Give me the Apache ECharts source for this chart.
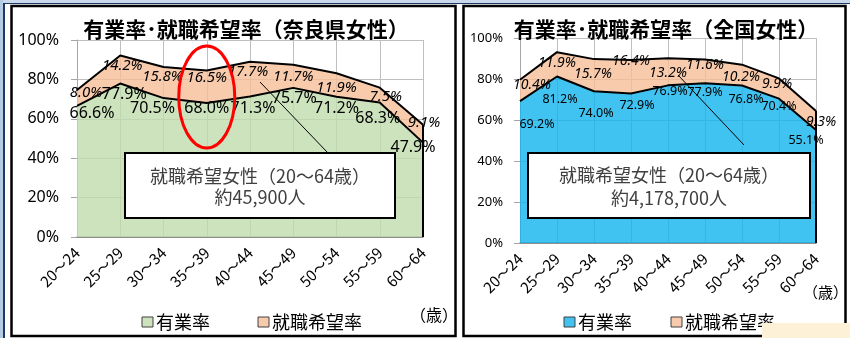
<!DOCTYPE html>
<html>
<head>
<meta charset="utf-8">
<script src="https://cdn.jsdelivr.net/npm/echarts@6/dist/echarts.min.js"></script>
<style>
html, body { margin: 0; padding: 0; background: #ffffff; }
#chart { width: 850px; height: 338px; }
</style>
</head>
<body>
<div id="chart"></div>
<script>
// Age groups (women, 20-64)
const ageGroups = ['20～24', '25～29', '30～34', '35～39', '40～44', '45～49', '50～54', '55～59', '60～64'];

// Nara prefecture: employment rate and job-wish rate (%)
const naraEmployment = [66.6, 77.9, 70.5, 68.0, 71.3, 75.7, 71.2, 68.3, 47.9];
const naraJobWish = [8.0, 14.2, 15.8, 16.5, 17.7, 11.7, 11.9, 7.5, 9.1];

// Nationwide: employment rate and job-wish rate (%)
const nationEmployment = [69.2, 81.2, 74.0, 72.9, 76.9, 77.9, 76.8, 70.4, 55.1];
const nationJobWish = [10.4, 11.9, 15.7, 16.4, 13.2, 11.6, 10.2, 9.9, 9.3];

// Texts
const naraTitle = '有業率･就職希望率（奈良県女性）';
const nationTitle = '有業率･就職希望率（全国女性）';
const naraNote = ['就職希望女性（20～64歳）', '約45,900人'];
const nationNote = ['就職希望女性（20～64歳）', '約4,178,700人'];
const seriesNames = ['有業率', '就職希望率'];
const ageUnit = '（歳）';

// Label nudges (pixels) so the value labels sit clear of the lines
const naraEmpShift = [[15, -4], [4, -1], [-11, -1], [0, -6], [3, 0], [1, -1], [0, 0], [-2, 4], [-10, -7]];
const naraWishShift = [[9, -8], [2, -1], [-1, -1], [0, -4], [-2, -1], [0, 1], [0, 3], [6, -2], [1, -13]];
const nationEmpShift = [[17, 13], [3, 13], [2, 12], [6, 2], [2, -4], [0, -1], [4, 4], [0, -2], [-10, 0]];
const nationWishShift = [[12, -5], [0, 0], [-1, 4], [0, -9], [0, 4], [0, -5], [-1, 2], [-2, -5], [5, 1]];

const CJK = '"Noto Sans CJK JP", "Noto Sans", sans-serif';
const NUM = '"Noto Sans", "Liberation Sans", sans-serif';

const GREEN = '#c0dcac', BLUE = '#12b4ee', PEACH = '#f6be98';
const GREEN_SW = '#cde3bd', BLUE_SW = '#41c3f1', PEACH_SW = '#f8cbad';

function pct(p) { return Number(p.value).toFixed(1) + '%'; }

function areaSeries(name, values, idx, fill, shifts, labelFont, isFirst, totals) {
  const s = {
    type: 'line',
    name: name,
    xAxisIndex: idx,
    yAxisIndex: idx,
    stack: 'rate' + idx,
    data: values.map((v, i) => ({ value: v, label: { offset: shifts[i] } })),
    symbol: 'circle',
    symbolSize: 1,
    itemStyle: { color: 'rgba(0,0,0,0)' },
    lineStyle: { color: '#000000', width: 2 },
    areaStyle: { color: fill, opacity: 0.8 },
    label: Object.assign({
      show: true,
      position: 'bottom',
      distance: 3,
      color: '#000000',
      fontFamily: NUM,
      formatter: pct
    }, labelFont),
    silent: true,
    z: 2
  };
  if (isFirst) {
    const last = ageGroups.length - 1;
    s.markLine = {
      silent: true,
      symbol: 'none',
      label: { show: false },
      lineStyle: { color: '#000000', width: 2, type: 'solid' },
      data: [[{ coord: [ageGroups[last], 0] }, { coord: [ageGroups[last], totals[last]] }]]
    };
  }
  return s;
}

function xAxisFor(idx) {
  return {
    type: 'category',
    gridIndex: idx,
    data: ageGroups,
    boundaryGap: false,
    axisLine: { show: true, lineStyle: { color: '#7f7f7f', width: 1.5 } },
    axisTick: { show: false },
    splitLine: { show: true, lineStyle: { color: '#bfbfbf', width: 1 } },
    axisLabel: { interval: 0, rotate: 45, margin: 13, fontSize: 15, color: '#000000', fontFamily: CJK }
  };
}

function yAxisFor(idx, size, margin) {
  return {
    type: 'value',
    gridIndex: idx,
    min: 0,
    max: 100,
    interval: 20,
    axisLine: { show: true, lineStyle: { color: '#a6a6a6' } },
    axisTick: { show: true, length: 6, lineStyle: { color: '#a6a6a6' } },
    splitLine: { show: true, lineStyle: { color: '#bfbfbf', width: 1 } },
    axisLabel: { formatter: '{value}%', fontSize: size, margin: margin, color: '#000000', fontFamily: NUM }
  };
}

const naraTotals = naraEmployment.map((v, i) => v + naraJobWish[i]);
const nationTotals = nationEmployment.map((v, i) => v + nationJobWish[i]);

const chart = echarts.init(document.getElementById('chart'), null, { renderer: 'canvas' });

chart.setOption({
  animation: false,
  backgroundColor: '#ffffff',
  title: [
    { text: naraTitle, left: 241, top: 14, textAlign: 'center',
      textStyle: { fontFamily: CJK, fontSize: 21, fontWeight: 'bold', color: '#000000' } },
    { text: nationTitle, left: 661, top: 14, textAlign: 'center',
      textStyle: { fontFamily: CJK, fontSize: 21, fontWeight: 'bold', color: '#000000' } }
  ],
  grid: [
    { left: 77, top: 40, width: 346, height: 197 },
    { left: 520, top: 38, width: 296, height: 205 }
  ],
  xAxis: [xAxisFor(0), xAxisFor(1)],
  yAxis: [yAxisFor(0, 16, 18), yAxisFor(1, 13, 17)],
  series: [
    areaSeries(seriesNames[0], naraEmployment, 0, GREEN, naraEmpShift, { fontSize: 16 }, true, naraTotals),
    areaSeries(seriesNames[1], naraJobWish, 0, PEACH, naraWishShift, { fontSize: 15, fontStyle: 'italic' }, false),
    areaSeries(seriesNames[0], nationEmployment, 1, BLUE, nationEmpShift, { fontSize: 12.5 }, true, nationTotals),
    areaSeries(seriesNames[1], nationJobWish, 1, PEACH, nationWishShift, { fontSize: 14, fontStyle: 'italic' }, false)
  ]
});

// Panel decorations, notes and legends
const ringCenter = chart.convertToPixel({ xAxisIndex: 0, yAxisIndex: 0 }, [ageGroups[3], 71]);

function note(x, y, w, h, lines, ty1, ty2) {
  return [
    { type: 'rect', shape: { x: x, y: y, width: w, height: h },
      style: { fill: '#ffffff', stroke: '#000000', lineWidth: 2 }, z: 50 },
    { type: 'text', x: x + w / 2, y: ty1, z: 51,
      style: { text: lines[0], font: '18px ' + CJK, fill: '#404040', align: 'center', verticalAlign: 'middle' } },
    { type: 'text', x: x + w / 2, y: ty2, z: 51,
      style: { text: lines[1], font: '18px ' + CJK, fill: '#404040', align: 'center', verticalAlign: 'middle' } }
  ];
}

function legendItems(x1, x2, y, color1, color2) {
  return [
    { type: 'rect', shape: { x: x1, y: y - 5, width: 11, height: 10 },
      style: { fill: color1, stroke: '#404040', lineWidth: 1 }, z: 50 },
    { type: 'text', x: x1 + 14, y: y, z: 50,
      style: { text: seriesNames[0], font: '18px ' + CJK, fill: '#000000', verticalAlign: 'middle' } },
    { type: 'rect', shape: { x: x2, y: y - 5, width: 11, height: 10 },
      style: { fill: color2, stroke: '#404040', lineWidth: 1 }, z: 50 },
    { type: 'text', x: x2 + 14, y: y, z: 50,
      style: { text: seriesNames[1], font: '18px ' + CJK, fill: '#000000', verticalAlign: 'middle' } }
  ];
}

const graphics = [
  // outer page band
  { type: 'rect', shape: { x: 0, y: 0, width: 850, height: 3 }, style: { fill: '#c9d8ea' }, z: 40 },
  { type: 'line', shape: { x1: 0, y1: 3.5, x2: 850, y2: 3.5 }, style: { stroke: '#1f3864', lineWidth: 1.2 }, z: 40 },
  { type: 'rect', shape: { x: 0, y: 0, width: 3, height: 338 }, style: { fill: '#b4cce4' }, z: 40 },
  { type: 'line', shape: { x1: 4, y1: 3, x2: 4, y2: 338 }, style: { stroke: '#1f3864', lineWidth: 2 }, z: 40 },
  // panel frames
  { type: 'rect', shape: { x: 11.5, y: 6, width: 444, height: 330 },
    style: { fill: null, stroke: '#000000', lineWidth: 2.5 }, z: 40 },
  { type: 'rect', shape: { x: 463.5, y: 6, width: 382, height: 330 },
    style: { fill: null, stroke: '#000000', lineWidth: 2.5 }, z: 40 },
  // leader lines to notes
  { type: 'line', shape: { x1: 260, y1: 82, x2: 328, y2: 153 }, style: { stroke: '#000000', lineWidth: 1 }, z: 45 },
  { type: 'line', shape: { x1: 678, y1: 75, x2: 744, y2: 145 }, style: { stroke: '#000000', lineWidth: 1 }, z: 45 },
  // highlight ring around the 35-39 group
  { type: 'ellipse', shape: { cx: ringCenter[0], cy: 97, rx: 28, ry: 51 },
    style: { fill: null, stroke: '#ff0000', lineWidth: 3 }, z: 60 },
  // age unit labels
  { type: 'text', x: 410, y: 315, z: 50,
    style: { text: ageUnit, font: '16px ' + CJK, fill: '#000000', verticalAlign: 'middle' } },
  { type: 'text', x: 803, y: 292, z: 50,
    style: { text: ageUnit, font: '15px ' + CJK, fill: '#000000', verticalAlign: 'middle' } },
  // overlapping sticky note at the corner
  { type: 'rect', shape: { x: 762, y: 323, width: 88, height: 15 }, style: { fill: '#fdf1d7' }, z: 70 }
]
  .concat(note(125, 153, 270, 65, naraNote, 176, 197))
  .concat(note(528, 153, 282, 65, nationNote, 175, 198))
  .concat(legendItems(142, 258, 322, GREEN_SW, PEACH_SW))
  .concat(legendItems(564, 671, 322, BLUE_SW, PEACH_SW));

chart.setOption({ graphic: graphics });
</script>
</body>
</html>
